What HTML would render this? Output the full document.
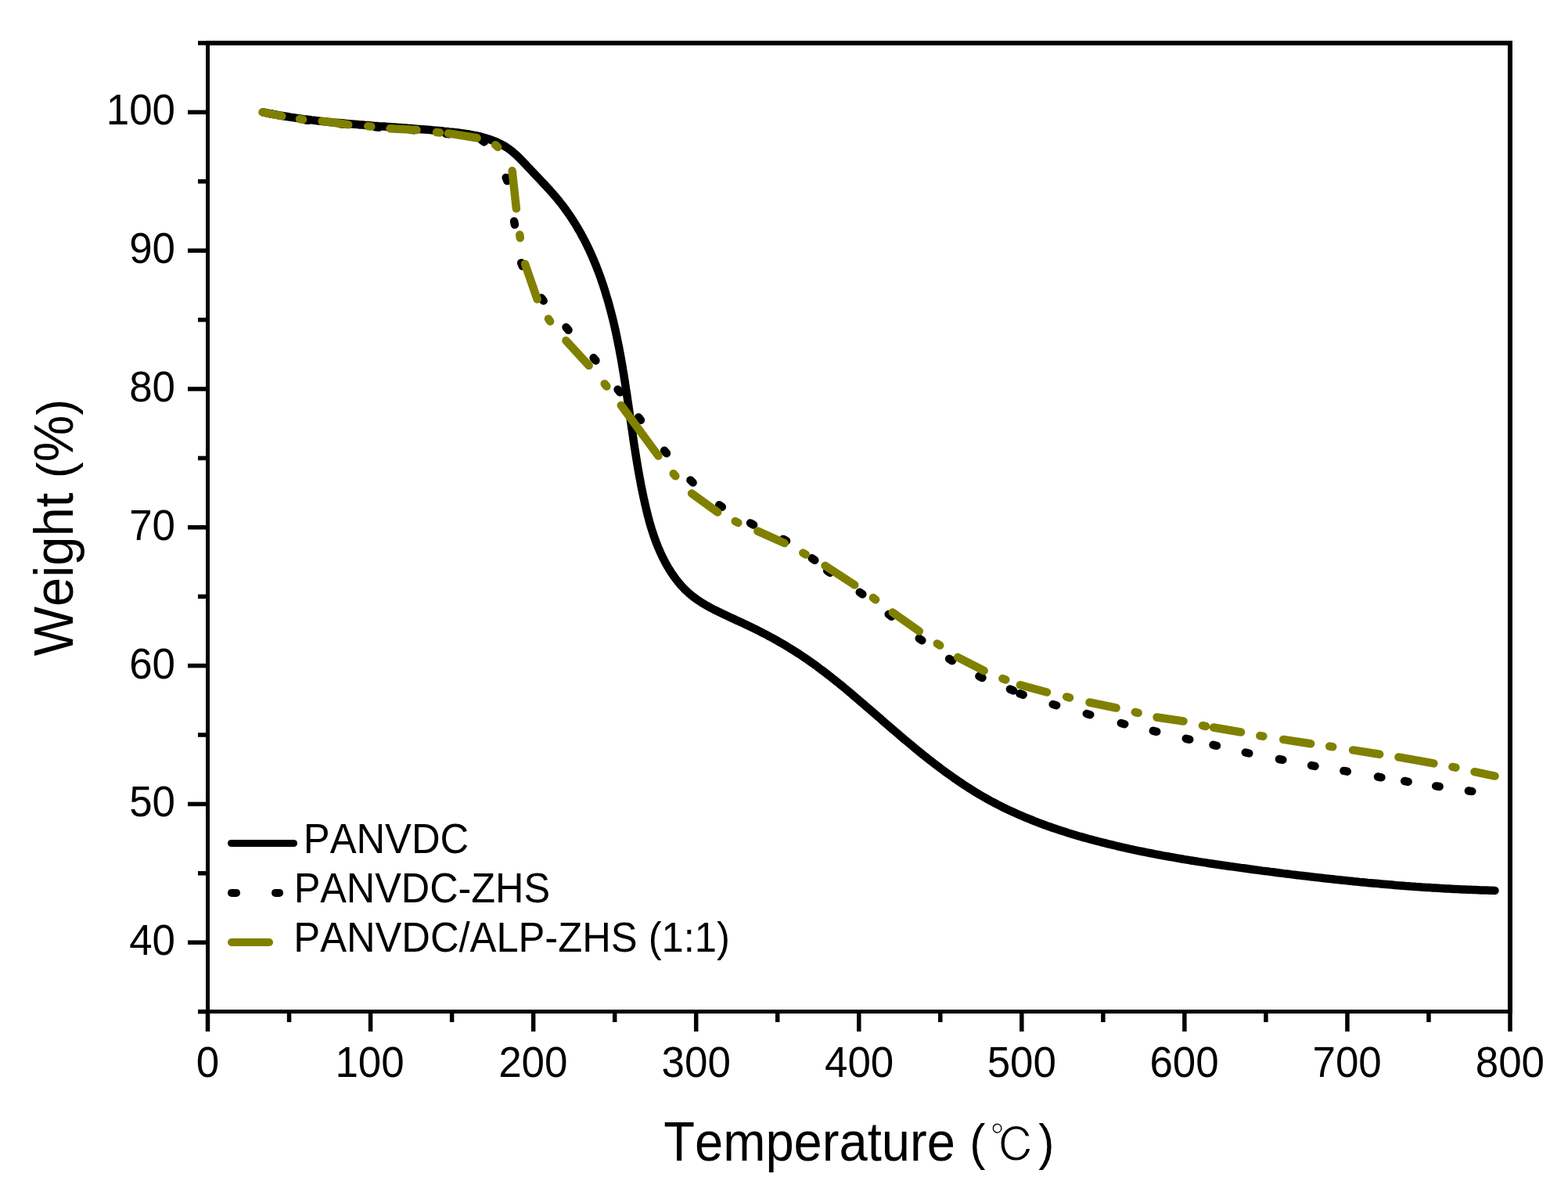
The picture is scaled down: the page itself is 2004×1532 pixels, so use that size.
<!DOCTYPE html>
<html><head><meta charset="utf-8"><title>TGA curves</title>
<style>html,body{margin:0;padding:0;background:#fff;}svg{display:block;}text{font-kerning:none;}</style>
</head><body>
<svg width="2004" height="1532" viewBox="0 0 2004 1532"><g fill="#000" shape-rendering="crispEdges">
<rect x="263" y="52" width="1670" height="6"/>
<rect x="263" y="52" width="5" height="1243"/>
<rect x="1927" y="52" width="6" height="1243"/>
<rect x="263" y="1290" width="1670" height="5"/>
</g>
<g fill="#000">
<rect x="253" y="1289.85" width="10" height="5.5"/>
<rect x="240" y="1201.45" width="23" height="5.5"/>
<rect x="253" y="1113.05" width="10" height="5.5"/>
<rect x="240" y="1024.65" width="23" height="5.5"/>
<rect x="253" y="936.25" width="10" height="5.5"/>
<rect x="240" y="847.85" width="23" height="5.5"/>
<rect x="253" y="759.45" width="10" height="5.5"/>
<rect x="240" y="671.05" width="23" height="5.5"/>
<rect x="253" y="582.65" width="10" height="5.5"/>
<rect x="240" y="494.25" width="23" height="5.5"/>
<rect x="253" y="405.85" width="10" height="5.5"/>
<rect x="240" y="317.45" width="23" height="5.5"/>
<rect x="253" y="229.05" width="10" height="5.5"/>
<rect x="240" y="140.65" width="23" height="5.5"/>
<rect x="253" y="52.25" width="10" height="5.5"/>
<rect x="262.75" y="1295" width="5.5" height="23"/>
<rect x="366.78" y="1295" width="5.5" height="11"/>
<rect x="470.81" y="1295" width="5.5" height="23"/>
<rect x="574.84" y="1295" width="5.5" height="11"/>
<rect x="678.88" y="1295" width="5.5" height="23"/>
<rect x="782.91" y="1295" width="5.5" height="11"/>
<rect x="886.94" y="1295" width="5.5" height="23"/>
<rect x="990.97" y="1295" width="5.5" height="11"/>
<rect x="1095.00" y="1295" width="5.5" height="23"/>
<rect x="1199.03" y="1295" width="5.5" height="11"/>
<rect x="1303.06" y="1295" width="5.5" height="23"/>
<rect x="1407.09" y="1295" width="5.5" height="11"/>
<rect x="1511.12" y="1295" width="5.5" height="23"/>
<rect x="1615.16" y="1295" width="5.5" height="11"/>
<rect x="1719.19" y="1295" width="5.5" height="23"/>
<rect x="1823.22" y="1295" width="5.5" height="11"/>
<rect x="1927.25" y="1295" width="5.5" height="23"/>
</g>
<g font-family="'Liberation Sans', Arial, sans-serif" fill="#000">
<text transform="translate(165.14 1220.20) scale(0.9650 1)" font-size="54.8" >40</text>
<text transform="translate(165.14 1043.40) scale(0.9650 1)" font-size="54.8" >50</text>
<text transform="translate(165.14 866.60) scale(0.9650 1)" font-size="54.8" >60</text>
<text transform="translate(165.14 689.80) scale(0.9650 1)" font-size="54.8" >70</text>
<text transform="translate(165.14 513.00) scale(0.9650 1)" font-size="54.8" >80</text>
<text transform="translate(165.14 336.20) scale(0.9650 1)" font-size="54.8" >90</text>
<text transform="translate(135.73 159.40) scale(0.9650 1)" font-size="54.8" >100</text>
<text transform="translate(250.79 1376.30) scale(0.9650 1)" font-size="54.8" >0</text>
<text transform="translate(428.47 1376.30) scale(0.9650 1)" font-size="54.8" >100</text>
<text transform="translate(637.21 1376.30) scale(0.9650 1)" font-size="54.8" >200</text>
<text transform="translate(845.60 1376.30) scale(0.9650 1)" font-size="54.8" >300</text>
<text transform="translate(1054.06 1376.30) scale(0.9650 1)" font-size="54.8" >400</text>
<text transform="translate(1261.67 1376.30) scale(0.9650 1)" font-size="54.8" >500</text>
<text transform="translate(1469.45 1376.30) scale(0.9650 1)" font-size="54.8" >600</text>
<text transform="translate(1677.50 1376.30) scale(0.9650 1)" font-size="54.8" >700</text>
<text transform="translate(1885.77 1376.30) scale(0.9650 1)" font-size="54.8" >800</text>
</g>
<g font-family="'Liberation Sans', Arial, sans-serif" fill="#000">
<text transform="translate(848.24 1483.10) scale(0.9300 1)" font-size="70" >Temperature</text>
<text transform="translate(1239.36 1482.41) scale(0.9327 1)" font-size="64.7" >(</text>
<text transform="translate(1327.35 1482.41) scale(0.9327 1)" font-size="64.7" >)</text>
</g>
<text transform="translate(1264.98 1484.96) scale(0.9632 1)" font-family="'Liberation Sans', IPAGothic, 'Noto Serif CJK SC', sans-serif" font-size="60.57" fill="#000" stroke="#fff" stroke-width="1.2">℃</text>
<text transform="translate(93 838.29) rotate(-90) scale(0.9583 1)" font-family="'Liberation Sans', Arial, sans-serif" font-size="70" fill="#000" xml:space="preserve"><tspan font-size="70">Weight </tspan><tspan font-size="64.7">(</tspan><tspan font-size="70">%</tspan><tspan font-size="64.7">)</tspan></text>
<g font-family="'Liberation Sans', Arial, sans-serif" fill="#000">
<text transform="translate(387.84 1090.40) scale(0.9393 1)" font-size="54" >PANVDC</text>
<text transform="translate(375.67 1152.90) scale(0.9328 1)" font-size="54" >PANVDC-ZHS</text>
<text transform="translate(375.34 1216.00) scale(0.9385 1)" font-size="54" >PANVDC/ALP-ZHS (1:1)</text>
</g>
<line x1="295.5" y1="1077.5" x2="375.5" y2="1077.5" stroke="#000" stroke-width="9" stroke-linecap="round"/>
<line x1="296" y1="1140.9" x2="302" y2="1140.9" stroke="#000" stroke-width="10" stroke-linecap="round"/>
<line x1="352" y1="1140.9" x2="357" y2="1140.9" stroke="#000" stroke-width="10" stroke-linecap="round"/>
<line x1="296" y1="1204" x2="344" y2="1204" stroke="#808000" stroke-width="10" stroke-linecap="round"/>
<path d="M336.3,143.4 L339.8,144.1 L343.2,144.8 L346.7,145.5 L350.1,146.1 L353.5,146.7 L357.0,147.3 L360.4,147.9 L363.9,148.5 L367.3,149.0 L370.8,149.6 L374.2,150.1 L377.6,150.6 L381.1,151.1 L384.5,151.6 L387.9,152.1 L391.4,152.5 L394.8,152.9 L398.2,153.4 L401.7,153.8 L405.1,154.2 L408.6,154.6 L412.0,155.0 L415.4,155.3 L418.9,155.7 L422.3,156.0 L425.7,156.4 L429.2,156.7 L432.6,157.0 L436.0,157.3 L439.5,157.6 L442.9,157.9 L446.3,158.2 L449.8,158.5 L453.2,158.8 L456.7,159.1 L460.1,159.4 L463.5,159.6 L467.0,159.9 L470.4,160.1 L473.9,160.4 L477.3,160.7 L480.8,160.9 L484.2,161.2 L487.7,161.4 L491.1,161.6 L494.6,161.9 L498.0,162.1 L501.5,162.4 L504.9,162.6 L508.4,162.9 L511.8,163.1 L515.3,163.4 L518.8,163.6 L522.2,163.9 L525.7,164.1 L529.2,164.4 L532.6,164.7 L536.1,164.9 L539.6,165.2 L543.1,165.5 L546.5,165.8 L550.0,166.1 L553.5,166.4 L557.0,166.7 L560.5,167.0 L564.0,167.3 L567.5,167.7 L570.9,168.0 L574.4,168.4 L577.9,168.7 L581.4,169.1 L584.9,169.5 L588.4,170.0 L591.9,170.4 L595.4,171.0 L598.8,171.5 L602.2,172.1 L605.7,172.8 L609.1,173.5 L612.4,174.2 L615.8,175.1 L619.1,176.0 L622.4,177.0 L625.6,178.0 L628.9,179.2 L632.1,180.4 L635.2,181.7 L638.3,183.2 L641.4,184.7 L644.3,186.4 L647.2,188.1 L650.0,190.0 L652.8,192.1 L655.4,194.2 L658.0,196.4 L660.6,198.7 L663.1,201.1 L665.5,203.6 L667.9,206.0 L670.3,208.6 L672.7,211.1 L675.1,213.7 L677.5,216.2 L679.9,218.8 L682.3,221.4 L684.7,223.9 L687.1,226.4 L689.5,228.9 L691.9,231.5 L694.3,234.0 L696.7,236.5 L699.0,239.1 L701.4,241.6 L703.7,244.2 L706.0,246.8 L708.3,249.4 L710.6,252.0 L712.8,254.7 L715.0,257.4 L717.1,260.1 L719.2,262.8 L721.3,265.6 L723.3,268.4 L725.3,271.2 L727.3,274.0 L729.3,276.9 L731.2,279.8 L733.0,282.7 L734.9,285.6 L736.7,288.6 L738.4,291.5 L740.2,294.5 L741.9,297.5 L743.5,300.6 L745.2,303.6 L746.8,306.6 L748.4,309.7 L749.9,312.8 L751.4,315.9 L752.9,319.0 L754.4,322.2 L755.8,325.3 L757.2,328.5 L758.5,331.7 L759.9,334.9 L761.2,338.1 L762.5,341.3 L763.7,344.5 L765.0,347.7 L766.2,351.0 L767.4,354.3 L768.5,357.5 L769.6,360.8 L770.8,364.1 L771.8,367.4 L772.9,370.7 L773.9,374.0 L774.9,377.4 L775.9,380.7 L776.9,384.0 L777.9,387.4 L778.8,390.8 L779.7,394.1 L780.6,397.5 L781.5,400.9 L782.3,404.2 L783.2,407.6 L784.0,411.0 L784.8,414.4 L785.6,417.8 L786.3,421.2 L787.1,424.6 L787.8,428.0 L788.5,431.4 L789.2,434.8 L789.9,438.2 L790.6,441.6 L791.3,445.0 L791.9,448.4 L792.5,451.8 L793.2,455.2 L793.8,458.6 L794.4,462.1 L795.0,465.5 L795.6,468.9 L796.1,472.3 L796.7,475.7 L797.3,479.2 L797.8,482.6 L798.3,486.0 L798.9,489.4 L799.4,492.8 L799.9,496.3 L800.5,499.7 L801.0,503.1 L801.5,506.6 L802.0,510.0 L802.5,513.4 L803.0,516.8 L803.5,520.3 L804.0,523.7 L804.5,527.1 L805.0,530.6 L805.5,534.0 L806.0,537.4 L806.5,540.8 L807.0,544.3 L807.5,547.7 L808.0,551.1 L808.5,554.6 L809.0,558.0 L809.5,561.4 L810.0,564.8 L810.5,568.3 L811.0,571.7 L811.6,575.1 L812.1,578.5 L812.7,581.9 L813.2,585.4 L813.8,588.8 L814.3,592.2 L814.9,595.6 L815.5,599.0 L816.1,602.4 L816.7,605.8 L817.3,609.3 L818.0,612.7 L818.6,616.1 L819.2,619.5 L819.9,622.9 L820.6,626.3 L821.3,629.7 L822.0,633.0 L822.7,636.4 L823.5,639.8 L824.2,643.2 L825.0,646.6 L825.8,650.0 L826.6,653.3 L827.4,656.7 L828.3,660.1 L829.2,663.4 L830.1,666.8 L831.0,670.1 L832.0,673.4 L833.0,676.7 L834.1,680.0 L835.2,683.3 L836.3,686.6 L837.5,689.8 L838.7,693.1 L839.9,696.3 L841.2,699.5 L842.6,702.7 L844.0,705.8 L845.4,709.0 L846.9,712.1 L848.5,715.2 L850.1,718.3 L851.8,721.3 L853.5,724.4 L855.3,727.4 L857.2,730.3 L859.1,733.3 L861.1,736.1 L863.2,739.0 L865.3,741.8 L867.5,744.5 L869.7,747.1 L872.1,749.7 L874.4,752.2 L876.9,754.7 L879.4,757.0 L882.0,759.3 L884.7,761.5 L887.4,763.5 L890.2,765.6 L893.0,767.5 L895.9,769.4 L898.9,771.2 L901.8,773.0 L904.8,774.7 L907.8,776.3 L910.9,778.0 L913.9,779.6 L917.0,781.1 L920.1,782.6 L923.2,784.1 L926.3,785.6 L929.5,787.1 L932.6,788.5 L935.8,790.0 L938.9,791.4 L942.1,792.9 L945.3,794.3 L948.4,795.8 L951.6,797.2 L954.7,798.7 L957.9,800.2 L961.0,801.7 L964.1,803.3 L967.3,804.8 L970.4,806.4 L973.5,808.0 L976.6,809.6 L979.7,811.2 L982.7,812.8 L985.8,814.5 L988.9,816.2 L991.9,817.8 L994.9,819.6 L998.0,821.3 L1001.0,823.0 L1004.0,824.8 L1006.9,826.6 L1009.9,828.4 L1012.8,830.2 L1015.8,832.1 L1018.7,834.0 L1021.6,835.8 L1024.5,837.8 L1027.3,839.7 L1030.2,841.6 L1033.0,843.6 L1035.9,845.6 L1038.7,847.6 L1041.5,849.6 L1044.3,851.6 L1047.0,853.7 L1049.8,855.7 L1052.6,857.8 L1055.3,859.9 L1058.0,862.0 L1060.8,864.1 L1063.5,866.3 L1066.2,868.4 L1068.9,870.6 L1071.6,872.7 L1074.3,874.9 L1076.9,877.1 L1079.6,879.3 L1082.3,881.5 L1084.9,883.7 L1087.6,885.9 L1090.2,888.2 L1092.8,890.4 L1095.5,892.7 L1098.1,894.9 L1100.7,897.2 L1103.4,899.4 L1106.0,901.7 L1108.6,903.9 L1111.3,906.2 L1113.9,908.5 L1116.5,910.8 L1119.1,913.0 L1121.7,915.3 L1124.4,917.6 L1127.0,919.9 L1129.6,922.2 L1132.2,924.4 L1134.9,926.7 L1137.5,929.0 L1140.1,931.3 L1142.8,933.6 L1145.4,935.8 L1148.1,938.1 L1150.7,940.4 L1153.4,942.6 L1156.1,944.9 L1158.7,947.1 L1161.4,949.3 L1164.1,951.6 L1166.8,953.8 L1169.4,956.0 L1172.1,958.2 L1174.8,960.4 L1177.5,962.6 L1180.3,964.8 L1183.0,967.0 L1185.7,969.1 L1188.5,971.3 L1191.2,973.4 L1194.0,975.6 L1196.7,977.7 L1199.5,979.8 L1202.3,981.9 L1205.0,983.9 L1207.8,986.0 L1210.6,988.0 L1213.5,990.1 L1216.3,992.1 L1219.1,994.1 L1222.0,996.0 L1224.8,998.0 L1227.7,999.9 L1230.6,1001.9 L1233.5,1003.8 L1236.4,1005.6 L1239.3,1007.5 L1242.2,1009.3 L1245.1,1011.2 L1248.1,1013.0 L1251.0,1014.7 L1254.0,1016.5 L1257.0,1018.2 L1260.0,1019.9 L1263.0,1021.6 L1266.0,1023.3 L1269.1,1024.9 L1272.1,1026.5 L1275.2,1028.1 L1278.3,1029.7 L1281.3,1031.2 L1284.4,1032.7 L1287.6,1034.2 L1290.7,1035.7 L1293.8,1037.1 L1297.0,1038.6 L1300.1,1040.0 L1303.3,1041.4 L1306.5,1042.7 L1309.6,1044.1 L1312.8,1045.4 L1316.0,1046.7 L1319.3,1048.0 L1322.5,1049.3 L1325.7,1050.5 L1328.9,1051.8 L1332.2,1053.0 L1335.5,1054.2 L1338.7,1055.4 L1342.0,1056.5 L1345.3,1057.7 L1348.6,1058.8 L1351.8,1059.9 L1355.1,1061.0 L1358.5,1062.1 L1361.8,1063.1 L1365.1,1064.2 L1368.4,1065.2 L1371.7,1066.2 L1375.1,1067.2 L1378.4,1068.2 L1381.7,1069.1 L1385.1,1070.1 L1388.4,1071.0 L1391.8,1072.0 L1395.2,1072.9 L1398.5,1073.8 L1401.9,1074.7 L1405.3,1075.5 L1408.6,1076.4 L1412.0,1077.2 L1415.4,1078.1 L1418.8,1078.9 L1422.1,1079.7 L1425.5,1080.5 L1428.9,1081.3 L1432.3,1082.1 L1435.7,1082.9 L1439.1,1083.6 L1442.4,1084.4 L1445.8,1085.1 L1449.2,1085.8 L1452.6,1086.6 L1456.0,1087.3 L1459.4,1088.0 L1462.8,1088.7 L1466.2,1089.4 L1469.6,1090.0 L1473.0,1090.7 L1476.4,1091.4 L1479.8,1092.0 L1483.2,1092.6 L1486.6,1093.3 L1490.0,1093.9 L1493.5,1094.5 L1496.9,1095.1 L1500.3,1095.7 L1503.7,1096.3 L1507.1,1096.9 L1510.5,1097.5 L1513.9,1098.1 L1517.4,1098.6 L1520.8,1099.2 L1524.2,1099.7 L1527.6,1100.3 L1531.0,1100.8 L1534.5,1101.4 L1537.9,1101.9 L1541.3,1102.4 L1544.7,1103.0 L1548.2,1103.5 L1551.6,1104.0 L1555.0,1104.5 L1558.4,1105.0 L1561.9,1105.5 L1565.3,1106.0 L1568.7,1106.5 L1572.2,1107.0 L1575.6,1107.4 L1579.0,1107.9 L1582.5,1108.4 L1585.9,1108.9 L1589.3,1109.3 L1592.8,1109.8 L1596.2,1110.3 L1599.6,1110.7 L1603.1,1111.2 L1606.5,1111.6 L1610.0,1112.1 L1613.4,1112.6 L1616.8,1113.0 L1620.3,1113.4 L1623.7,1113.9 L1627.1,1114.3 L1630.6,1114.8 L1634.0,1115.2 L1637.5,1115.6 L1640.9,1116.1 L1644.4,1116.5 L1647.8,1116.9 L1651.2,1117.4 L1654.7,1117.8 L1658.1,1118.2 L1661.6,1118.6 L1665.0,1119.0 L1668.5,1119.4 L1671.9,1119.8 L1675.4,1120.2 L1678.8,1120.6 L1682.2,1121.0 L1685.7,1121.4 L1689.1,1121.8 L1692.6,1122.2 L1696.0,1122.6 L1699.5,1122.9 L1702.9,1123.3 L1706.4,1123.7 L1709.8,1124.1 L1713.3,1124.4 L1716.7,1124.8 L1720.2,1125.1 L1723.6,1125.5 L1727.1,1125.8 L1730.5,1126.2 L1734.0,1126.5 L1737.5,1126.9 L1740.9,1127.2 L1744.4,1127.5 L1747.8,1127.9 L1751.3,1128.2 L1754.7,1128.5 L1758.2,1128.8 L1761.6,1129.1 L1765.1,1129.4 L1768.5,1129.7 L1772.0,1130.0 L1775.5,1130.3 L1778.9,1130.6 L1782.4,1130.9 L1785.8,1131.2 L1789.3,1131.4 L1792.7,1131.7 L1796.2,1132.0 L1799.7,1132.2 L1803.1,1132.5 L1806.6,1132.7 L1810.0,1133.0 L1813.5,1133.2 L1817.0,1133.5 L1820.4,1133.7 L1823.9,1133.9 L1827.4,1134.1 L1830.8,1134.4 L1834.3,1134.6 L1837.7,1134.8 L1841.2,1135.0 L1844.7,1135.2 L1848.1,1135.4 L1851.6,1135.5 L1855.1,1135.7 L1858.5,1135.9 L1862.0,1136.1 L1865.4,1136.2 L1868.9,1136.4 L1872.4,1136.5 L1875.8,1136.7 L1879.3,1136.8 L1882.8,1137.0 L1886.2,1137.1 L1889.7,1137.2 L1893.2,1137.4 L1896.6,1137.5 L1900.1,1137.6 L1903.6,1137.7 L1907.0,1137.8 L1910.5,1137.9" fill="none" stroke="#000" stroke-width="10.5" stroke-linejoin="round" stroke-linecap="round"/>
<path d="M344.8,145.1L349.2,145.9 M389.8,153.2L394.2,153.8 M434.8,158.3L439.2,158.7 M479.8,162.3L484.2,162.7 M524.8,165.8L529.2,166.2 M569.8,170.7L574.2,171.3 M615.2,178.6L618.8,181.4 M646.7,226.9L648.3,231.1 M657.1,282.7L657.9,287.1 M666.2,335.9L667.8,340.1 M692.0,380.7L694.6,384.3 M723.5,418.3L726.5,421.7 M758.6,457.3L761.4,460.7 M789.6,497.7L792.4,501.3 M816.1,533.2L818.9,536.8 M849.1,575.8L851.9,579.2 M882.4,613.4L885.6,616.6 M919.2,645.2L922.8,647.8 M959.0,668.4L963.0,670.6 M1001.0,688.9L1005.0,691.1 M1037.7,713.2L1041.3,715.8 M1057.2,729.2L1060.8,731.8 M1098.7,756.7L1102.3,759.3 M1135.7,784.9L1139.3,787.7 M1174.7,815.7L1178.3,818.3 M1213.1,841.8L1216.9,844.2 M1251.4,864.0L1255.4,866.0 M1290.9,880.6L1295.1,882.4 M1303.4,886.3L1307.6,887.7 M1345.7,900.0L1350.1,901.2 M1388.8,912.0L1393.2,913.2 M1432.8,924.0L1437.2,925.2 M1473.8,933.8L1478.2,934.8 M1515.8,943.8L1520.2,944.8 M1550.5,951.8L1554.9,952.8 M1591.8,961.5L1596.2,962.5 M1634.9,970.0L1639.3,970.8 M1676.1,978.1L1680.5,978.9 M1717.4,984.9L1721.8,985.7 M1761.0,992.5L1765.4,993.3 M1795.2,998.0L1799.6,998.8 M1835.2,1004.4L1839.6,1005.0 M1876.9,1010.5L1881.3,1011.1" fill="none" stroke="#000" stroke-width="10.5" stroke-linecap="round"/>
<path d="M335.5,143.4L360.3,148.3 M383.0,152.1L387.0,152.7 M411.6,154.8L445.2,159.3 M470.3,161.2L474.3,161.6 M498.5,164.3L532.5,166.1 M558.0,169.1L562.0,169.5 M573.0,170.4L609.5,176.3 M633.2,185.2L636.2,188.0 M654.6,218.3L659.9,266.6 M664.2,300.0L664.8,304.0 M671.0,337.3L686.6,382.2 M700.9,407.4L703.1,410.6 M723.4,435.2L752.7,467.1 M772.7,490.4L775.3,493.6 M793.8,517.9L841.4,582.5 M860.7,605.3L863.3,608.3 M884.1,630.4L917.2,654.5 M939.7,666.1L943.3,667.9 M968.3,678.6L1002.6,694.0 M1026.3,706.5L1029.7,708.5 M1054.6,722.8L1092.2,747.3 M1115.9,763.8L1119.1,766.2 M1140.8,782.5L1174.8,806.5 M1197.8,822.4L1201.2,824.6 M1224.2,839.8L1257.6,857.0 M1281.4,867.1L1285.2,868.5 M1303.9,875.3L1338.0,884.5 M1363.2,890.4L1367.0,891.4 M1392.5,897.5L1426.5,904.5 M1450.8,910.0L1454.6,910.8 M1478.5,916.5L1512.5,921.5 M1537.0,927.2L1541.0,928.0 M1551.0,929.5L1586.0,935.5 M1610.3,940.1L1614.3,940.7 M1640.2,944.9L1675.2,950.3 M1699.2,953.6L1703.2,954.2 M1729.1,958.4L1763.2,963.8 M1787.5,967.4L1832.4,975.4 M1856.4,979.9L1860.4,980.7 M1884.5,986.2L1910.5,991.6" fill="none" stroke="#808000" stroke-width="10.5" stroke-linecap="round"/></svg>
</body></html>
